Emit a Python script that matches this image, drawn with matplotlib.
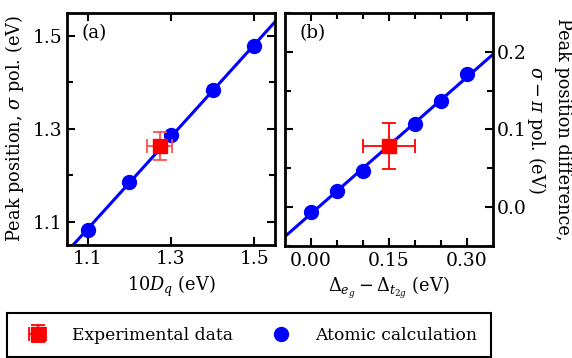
import numpy as np
import matplotlib
matplotlib.use("Agg")
import matplotlib.pyplot as plt
from matplotlib.ticker import MultipleLocator, FixedLocator

plt.rcParams['font.family'] = ['DejaVu Serif']
plt.rcParams['mathtext.fontset'] = 'dejavuserif'
plt.rcParams['font.size'] = 12.8
plt.rcParams['xtick.labelsize'] = 13.5
plt.rcParams['ytick.labelsize'] = 13.5

# Panel (a) data
dq_calc = [1.1, 1.2, 1.3, 1.4, 1.5]
peak_calc = [1.081, 1.186, 1.286, 1.384, 1.478]
dq_exp = [1.273]
peak_exp = [1.263]
dq_exp_err = [0.03]
peak_exp_err = [0.03]

# Panel (b) data
delta_calc = [0.00, 0.05, 0.10, 0.20, 0.25, 0.30]
diff_calc = [-0.006, 0.021, 0.047, 0.1065, 0.137, 0.1707]
delta_exp = [0.15]
diff_exp = [0.0785]
delta_exp_err = [0.05]
diff_exp_err = [0.03]

fig = plt.figure(figsize=(5.72, 3.58), dpi=100)
axa = fig.add_axes([0.117, 0.316, 0.364, 0.648])
axb = fig.add_axes([0.498, 0.313, 0.364, 0.651])

blue = '#0000ff'
red = '#ff0000'

def style(ax):
    for s in ax.spines.values():
        s.set_linewidth(2)
    ax.tick_params(which='both', direction='in', top=True, right=True, width=1.5)
    ax.tick_params(which='major', length=6)
    ax.tick_params(which='minor', length=4)
    ax.tick_params(axis='x', which='major', pad=4)
    ax.tick_params(axis='y', which='major', pad=3)

# Panel a
xa = np.array(dq_calc); ya = np.array(peak_calc)
pa = np.polyfit(xa, ya, 1)
xl = np.array([1.0, 1.6])
axa.plot(xl, np.polyval(pa, xl), color=blue, lw=2.2, zorder=2)
axa.plot(dq_calc, peak_calc, 'o', color=blue, ms=10, zorder=3)
axa.errorbar(dq_exp, peak_exp, xerr=dq_exp_err, yerr=peak_exp_err, fmt='s',
             color=red, ecolor='#ff5050', ms=10, capsize=5, elinewidth=1.3,
             capthick=1.3, zorder=4)
axa.set_xlim(1.05, 1.55)
axa.set_ylim(1.05, 1.55)
axa.xaxis.set_major_locator(FixedLocator([1.1, 1.3, 1.5]))
axa.yaxis.set_major_locator(FixedLocator([1.1, 1.3, 1.5]))
axa.yaxis.set_minor_locator(FixedLocator([1.2, 1.4]))
axa.set_xlabel(r'$10D_q$ (eV)', labelpad=4)
axa.set_ylabel(r'Peak position, $\sigma$ pol. (eV)', labelpad=5)
axa.text(0.072, 0.914, '(a)', transform=axa.transAxes, ha='left', va='center',
         fontsize=13.2)
style(axa)

# Panel b
xb = np.array(delta_calc); yb = np.array(diff_calc)
pb = np.polyfit(xb, yb, 1)
xl = np.array([-0.1, 0.4])
axb.plot(xl, np.polyval(pb, xl), color=blue, lw=2.2, zorder=2)
hcalc, = axb.plot(delta_calc, diff_calc, 'o', color=blue, ms=10, zorder=3)
hexp = axb.errorbar(delta_exp, diff_exp, xerr=delta_exp_err, yerr=diff_exp_err, fmt='s',
                    color=red, ecolor=red, ms=10, capsize=5, elinewidth=1.3,
                    capthick=1.3, zorder=4)
axb.set_xlim(-0.05, 0.35)
axb.set_ylim(-0.05, 0.25)
axb.xaxis.set_major_locator(FixedLocator([0.0, 0.15, 0.30]))
axb.xaxis.set_minor_locator(FixedLocator([0.05, 0.10, 0.20, 0.25]))
axb.yaxis.set_major_locator(MultipleLocator(0.1))
axb.yaxis.set_minor_locator(MultipleLocator(0.05))
axb.set_xticklabels(['0.00', '0.15', '0.30'])
axb.yaxis.tick_right()
axb.yaxis.set_label_position('right')
axb.set_xlabel(r'$\Delta_{e_g} - \Delta_{t_{2g}}$ (eV)', labelpad=4)
axb.set_ylabel('Peak position difference,\n' + r'$\sigma - \pi$ pol. (eV)',
               rotation=270, labelpad=32, linespacing=1.3)
axb.text(0.072, 0.914, '(b)', transform=axb.transAxes, ha='left', va='center',
         fontsize=13.2)
style(axb)
axb.tick_params(which='both', left=True, labelleft=False)

leg = fig.legend([hexp, hcalc], ['Experimental data', 'Atomic calculation'],
                 loc='upper left', bbox_to_anchor=(0.012, 0.126, 0.846, 0.0),
                 mode='expand', ncol=2, borderpad=0.8, handletextpad=1.0,
                 borderaxespad=0.0, fontsize=12.3,
                 fancybox=False, edgecolor='black', framealpha=1, numpoints=1)
leg.get_frame().set_linewidth(1.5)

fig.savefig('out.png', dpi=100)
